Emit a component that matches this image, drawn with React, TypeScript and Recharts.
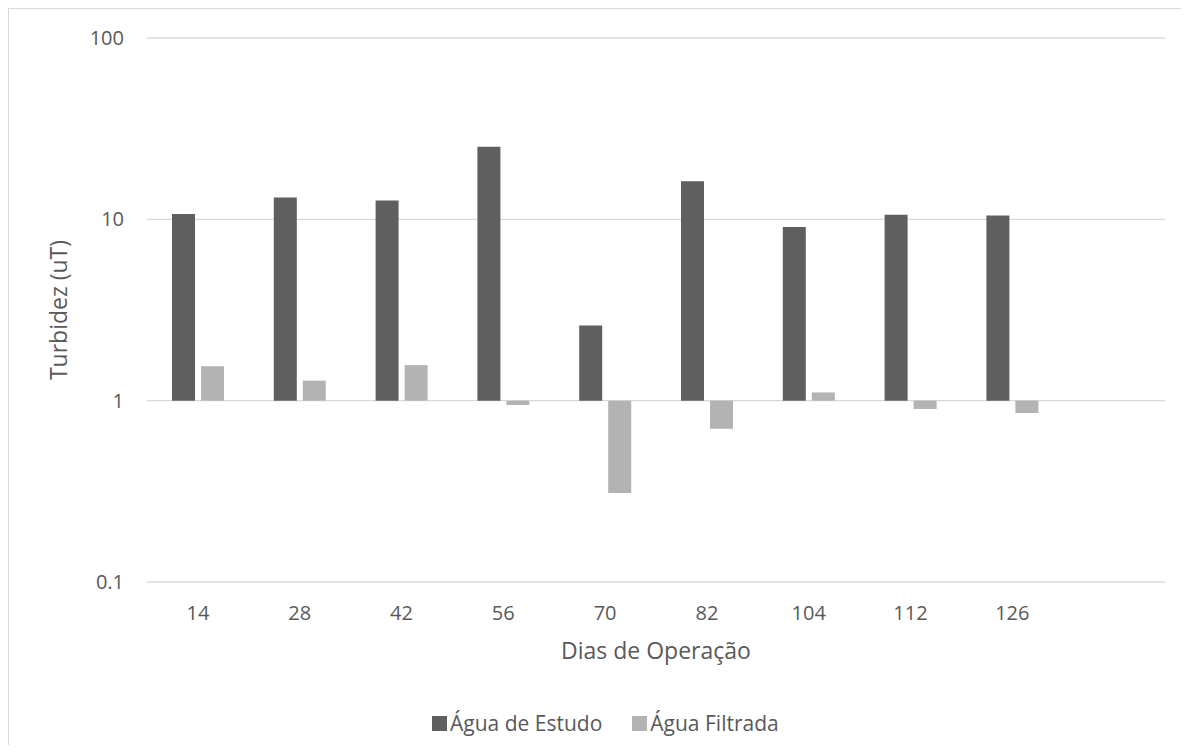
import { Bar, BarChart, CartesianGrid, Legend, XAxis, YAxis, Label } from 'recharts';

// Turbidez medida por dia de operação (escala logarítmica, barras a partir de 1 uT)
const dias = ['14', '28', '42', '56', '70', '82', '104', '112', '126', ''];
const aguaEstudo: (number | null)[] = [10.7, 13.2, 12.7, 25.1, 2.6, 16.2, 9.06, 10.6, 10.5, null];
const aguaFiltrada: (number | null)[] = [1.55, 1.29, 1.57, 0.945, 0.31, 0.7, 1.11, 0.9, 0.855, null];
const yTicks = [0.1, 1, 10, 100];

const series = [
    { key: 'estudo', name: 'Água de Estudo', color: '#5f5f5f' },
    { key: 'filtrada', name: 'Água Filtrada', color: '#b3b3b3' },
] as const;

type Row = { dia: string; estudo: number | null; filtrada: number | null };

const data: Row[] = dias.map((dia, i) => ({
    dia,
    estudo: aguaEstudo[i],
    filtrada: aguaFiltrada[i],
}));

const FONT = '"Open Sans", "Noto Sans", sans-serif';
const TEXT = '#595959';

// bars grow up or down from the 1 uT line
const fromOne = (key: 'estudo' | 'filtrada') => (d: Row) => (d[key] == null ? null : [1, d[key]]);

// legend keeps the series order (the default one sorts by name)
function LegendBox() {
    return (
        <div style={{ display: 'flex', alignItems: 'center', height: 24, fontFamily: FONT, fontSize: 21, color: TEXT }}>
            {series.map((s, i) => (
                <div key={s.key} style={{ display: 'flex', alignItems: 'center', marginLeft: i === 0 ? 0 : 30 }}>
                    <span style={{ width: 15, height: 15, background: s.color, display: 'inline-block', marginRight: 3 }} />
                    <span style={{ whiteSpace: 'nowrap' }}>{s.name}</span>
                </div>
            ))}
        </div>
    );
}

export default function App() {
    return (
        <div
            style={{
                width: 1173,
                height: 737,
                borderTop: '1px solid #d9d9d9',
                borderLeft: '1px solid #d9d9d9',
                boxSizing: 'border-box',
                background: '#fff',
            }}
        >
            <BarChart
                width={1172}
                height={736}
                data={data}
                margin={{ top: 29, right: 16, left: 0, bottom: 0 }}
                barSize={23}
                barGap={6}
            >
                <CartesianGrid horizontal vertical={false} stroke="#d9d9d9" strokeWidth={1.3} />
                <XAxis
                    dataKey="dia"
                    height={163}
                    tickLine={false}
                    axisLine={false}
                    tickSize={0}
                    tickMargin={24}
                    tick={{ fill: TEXT, fontSize: 20, fontFamily: FONT }}
                    interval={0}
                >
                    <Label
                        content={({ viewBox }: any) => (
                            <text
                                x={viewBox.x + viewBox.width / 2}
                                y={viewBox.y + 77}
                                textAnchor="middle"
                                fill={TEXT}
                                fontSize={23}
                                fontFamily={FONT}
                            >
                                Dias de Operação
                            </text>
                        )}
                    />
                </XAxis>
                <YAxis
                    type="number"
                    scale="log"
                    domain={[0.1, 100]}
                    ticks={yTicks}
                    allowDataOverflow
                    width={138}
                    tickLine={false}
                    axisLine={false}
                    tickSize={0}
                    tickMargin={23}
                    tick={{ fill: TEXT, fontSize: 20, fontFamily: FONT }}
                    tickFormatter={(v: number) => `${v}`}
                >
                    <Label
                        content={({ viewBox }: any) => {
                            const cx = 58;
                            const cy = viewBox.y + viewBox.height / 2;
                            return (
                                <text
                                    x={cx}
                                    y={cy}
                                    transform={`rotate(-90 ${cx} ${cy})`}
                                    textAnchor="middle"
                                    fill={TEXT}
                                    fontSize={23}
                                    fontFamily={FONT}
                                >
                                    Turbidez (uT)
                                </text>
                            );
                        }}
                    />
                </YAxis>
                <Legend
                    layout="horizontal"
                    verticalAlign="middle"
                    align="center"
                    content={<LegendBox />}
                    wrapperStyle={{ top: 702, left: 423, width: 'auto' }}
                />
                {series.map((s) => (
                    <Bar key={s.key} name={s.name} dataKey={fromOne(s.key)} fill={s.color} isAnimationActive={false} />
                ))}
            </BarChart>
        </div>
    );
}
